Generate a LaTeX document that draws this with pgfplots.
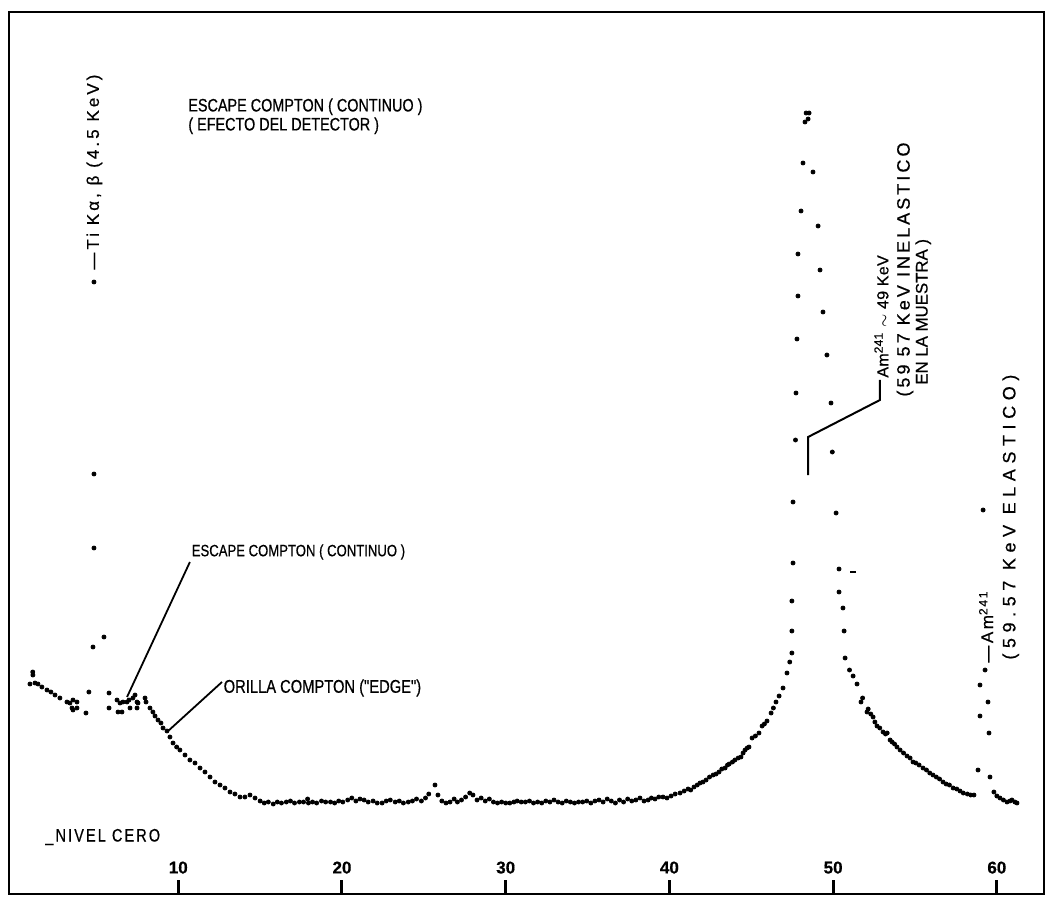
\documentclass[border=0pt]{standalone}
\usepackage{pgfplots}
\pgfplotsset{compat=1.18}
\usepackage{fontspec}
\setmainfont{Liberation Sans}
\newfontfamily\lr[FakeBold=0.6]{Liberation Sans}
\newfontfamily\lrn[FakeStretch=0.8, FakeBold=0.6]{Liberation Sans}
\newcommand{\ls}[1]{\addfontfeature{LetterSpace=#1}}
\begin{document}
\begin{tikzpicture}
\path[use as bounding box] (-4.5pt,-1pt) rectangle (518pt,447pt);
\begin{axis}[
  at={(0pt,0pt)}, anchor=south west,
  scale only axis, width=517.5pt, height=441pt,
  xmin=-0.34, xmax=62.88, ymin=0, ymax=882,
  axis line style={line width=1.2pt},
  xtick={10,20,30,40,50,60},
  xticklabels={},
  ytick=\empty,
  xtick pos=left,
  tick align=inside,
  major tick length=7pt,
  tick style={line width=1.5pt, black},
  clip=false,
]
\addplot[only marks, mark=*, mark size=1pt, black] coordinates {
(0.94,210) (1.11,222) (1.12,219) (1.25,211) (1.43,210) (1.67,207) (1.98,204) (2.22,202) (2.47,199) (2.77,196)
(3.20,192) (3.38,191) (3.51,186) (3.57,194) (3.57,184) (3.81,192) (3.81,186) (4.36,181) (4.54,202)
(4.79,247) (4.85,346) (4.85,420) (4.85,612) (5.46,257)
(5.77,201) (5.77,186) (6.26,194) (6.32,182) (6.44,191) (6.56,182) (6.62,192) (6.87,192) (6.99,194) (7.05,186)
(7.23,196) (7.36,199) (7.48,192) (7.48,186) (7.54,191) (7.97,196) (8.03,192) (8.27,186) (8.45,182) (8.58,178)
(8.76,174) (8.94,171) (9.07,166) (9.31,163) (9.49,157) (9.68,151) (9.90,147) (10.10,144) (10.41,139) (10.71,134)
(11.02,131) (11.33,126) (11.63,122) (11.94,117) (12.24,112) (12.55,109) (12.85,106) (13.16,102) (13.46,100) (13.77,97)
(14.07,97) (14.38,99) (14.69,96)
(15.0,93) (15.25,91) (15.5,92) (15.8,90) (16.05,92) (16.3,91) (16.6,92) (16.85,93) (17.1,91) (17.4,92)
(17.65,92) (17.9,95) (17.95,91) (18.2,92) (18.45,91) (18.75,93) (19.0,92) (19.3,92) (19.55,91) (19.8,93)
(20.05,92) (20.35,94) (20.6,96) (20.85,93) (21.1,95) (21.35,94) (21.6,92) (21.9,93) (22.15,91) (22.45,91)
(22.7,93) (22.95,94) (23.25,92) (23.5,93) (23.75,91) (24.05,92) (24.3,93) (24.55,95) (24.85,93) (25.1,96)
(25.3,100) (25.68,109) (25.86,99) (26.1,93) (26.35,91) (26.6,92) (26.85,95) (27.05,92) (27.3,94) (27.55,97)
(27.8,101) (28.0,99) (28.25,94) (28.5,96) (28.75,93) (29.0,95) (29.25,92) (29.5,91) (29.75,92) (30.0,91)
(30.25,91) (30.5,92) (30.7,93) (30.95,92) (31.2,92) (31.45,93) (31.7,91) (31.95,92) (32.2,91) (32.45,93)
(32.7,92) (32.95,94) (33.2,92) (33.45,91) (33.7,93) (33.95,92) (34.2,91) (34.45,92) (34.7,92) (34.95,93)
(35.2,91) (35.45,93) (35.7,94) (35.95,92) (36.2,95) (36.45,93) (36.7,91) (36.95,94) (37.2,92) (37.45,95)
(37.7,93) (37.95,94) (38.2,96) (38.45,93)
(38.7,94) (38.9,96) (39.12,95) (39.35,97) (39.61,97) (39.85,96) (40.1,98) (40.35,100) (40.65,101) (40.9,103)
(41.14,105) (41.3,104) (41.5,107) (41.7,109) (41.87,111) (42.05,112) (42.24,114) (42.45,117) (42.67,119) (42.85,120)
(43.03,122) (43.2,125) (43.4,126) (43.55,129) (43.65,130) (43.85,132) (44.0,134) (44.2,136) (44.37,137) (44.5,141)
(44.62,144) (44.75,146) (44.86,147) (45.05,156) (45.25,158) (45.47,161) (45.66,168) (45.8,170) (45.96,173) (46.21,181)
(46.35,186) (46.51,192) (46.7,198) (46.94,206) (47.18,221) (47.35,232) (47.48,241) (47.48,263) (47.48,293) (47.55,331)
(47.55,392) (47.7,454) (47.73,501) (47.79,555) (47.85,598) (47.85,640) (48.04,683) (48.16,731) (48.28,772) (48.35,781)
(48.47,775) (48.53,781)
(48.77,722) (49.08,668) (49.2,624) (49.38,582) (49.62,539) (49.87,491) (49.95,442) (50.18,381) (50.36,325) (50.36,302)
(50.6,286) (50.67,263) (50.73,236) (51.0,224) (51.22,218) (51.46,210) (51.7,192) (51.8,196) (52.07,182) (52.14,185)
(52.3,180) (52.44,177) (52.55,172) (52.68,168) (52.85,166) (53.05,162) (53.2,160) (53.3,161) (53.48,154) (53.6,152)
(53.75,150) (53.9,147) (54.09,144) (54.3,141) (54.51,138) (54.7,136) (54.88,132) (55.05,131) (55.25,129) (55.49,126)
(55.7,124) (55.9,121) (56.1,119) (56.3,117) (56.5,115) (56.71,112) (56.9,110) (57.1,109) (57.33,106) (57.55,105)
(57.75,103) (57.95,101) (58.2,100) (58.4,99) (58.6,99)
(58.85,124) (58.97,178) (58.97,209) (59.16,384) (59.28,224) (59.46,192) (59.52,161) (59.58,117) (59.82,102) (60.0,98)
(60.19,96) (60.4,94) (60.62,92) (60.8,93) (60.92,94) (61.1,92) (61.23,91)
};
\addplot[only marks, mark=-, mark size=1.5pt, black, line width=1pt] coordinates {(51.22,322)};
% tick labels, set inside the frame above the ticks
\pgfplotsinvokeforeach{10,20,30,40,50,60}{
  \node[anchor=south, inner sep=0pt, font=\lr\fontsize{8.5}{9}\selectfont\bfseries] at (axis cs:#1,20) {#1};
}
% annotations
\node[anchor=north west, align=left, inner sep=0pt, font=\lrn\fontsize{9}{9.5}\selectfont] at (axis cs:10.59,796)
  {ESCAPE COMPTON ( CONTINUO )\\( EFECTO DEL DETECTOR )};
\node[rotate=90, anchor=west, inner sep=0pt, font=\lr\fontsize{8.5}{9}\selectfont\ls{18}] at (axis cs:4.88,624)
  {—Ti Kα, β (4.5 KeV)};
\draw[line width=0.9pt] (axis cs:10.71,332) -- (axis cs:6.87,197);
\node[anchor=west, inner sep=0pt, font=\lrn\fontsize{8.2}{9}\selectfont] at (axis cs:10.8,342)
  {ESCAPE COMPTON ( CONTINUO )};
\draw[line width=0.9pt] (axis cs:12.67,212) -- (axis cs:9.31,162);
\node[anchor=west, inner sep=0pt, font=\lrn\fontsize{9.2}{9}\selectfont] at (axis cs:12.75,206)
  {ORILLA COMPTON ("EDGE")};
\node[anchor=west, inner sep=0pt, font=\lrn\fontsize{9}{9}\selectfont\ls{12}] at (axis cs:1.86,57)
  {\_NIVEL CERO};
\draw[line width=1pt] (axis cs:48.47,419) -- (axis cs:48.47,457) -- (axis cs:52.86,494) -- (axis cs:52.86,514);
\node[rotate=90, anchor=west, inner sep=0pt, font=\lr\fontsize{8}{9}\selectfont\ls{2}] at (axis cs:52.95,516)
  {Am\textsuperscript{241} $\sim$ 49 KeV};
\node[rotate=90, anchor=west, inner sep=0pt, font=\lr\fontsize{9}{9}\selectfont\ls{17}] at (axis cs:54.39,497)
  {(59 57 KeV INELASTICO};
\node[rotate=90, anchor=west, inner sep=0pt, font=\lr\fontsize{8.4}{9}\selectfont] at (axis cs:55.5,509)
  {EN LA MUESTRA )};
\node[rotate=90, anchor=west, inner sep=0pt, font=\lr\fontsize{8.5}{9}\selectfont\ls{15}] at (axis cs:59.34,231)
  {—Am\textsuperscript{241}};
\node[rotate=90, anchor=west, inner sep=0pt, font=\lr\fontsize{9}{9}\selectfont\ls{31}] at (axis cs:60.85,234)
  {(59.57 KeV ELASTICO)};
\end{axis}
\end{tikzpicture}
\end{document}
